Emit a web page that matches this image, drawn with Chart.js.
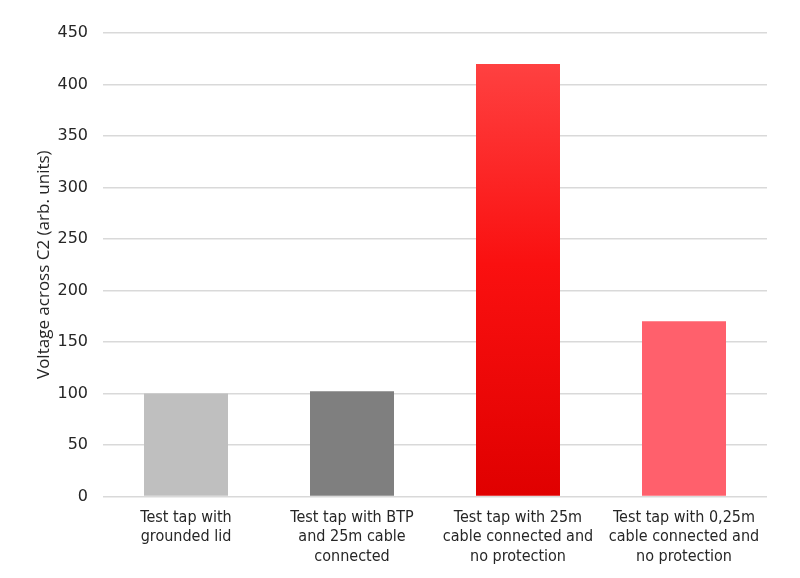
<!DOCTYPE html>
<html>
<head>
<meta charset="utf-8">
<script src="https://cdn.jsdelivr.net/npm/chart.js@4"></script>
<style>
  html, body { margin: 0; padding: 0; background: #fff; }
  #wrap { width: 800px; height: 578px; }
</style>
</head>
<body>
<div id="wrap"><canvas id="chart" width="800" height="578"></canvas></div>
<script>
// categories (multi-line labels as in the figure)
const categories = [
  ['Test tap with', 'grounded lid'],
  ['Test tap with BTP', 'and 25m cable', 'connected'],
  ['Test tap with 25m', 'cable connected and', 'no protection'],
  ['Test tap with 0,25m', 'cable connected and', 'no protection']
];
const voltages = [100, 102, 420, 170];
const yTicksMax = 450;
const yTickStep = 50;
const yTitle = 'Voltage across C2 (arb. units)';

// red bar gets a vertical gradient, the others are flat
function barColor(context) {
  const i = context.dataIndex;
  if (i === 0) return '#bfbfbf';
  if (i === 1) return '#7f7f7f';
  if (i === 3) return '#ff606c';
  const chart = context.chart;
  const area = chart.chartArea;
  if (!area) return '#f00000';
  const g = chart.ctx.createLinearGradient(0, area.top, 0, area.bottom);
  g.addColorStop(0, '#ff4848');
  g.addColorStop(0.5, '#fa1010');
  g.addColorStop(1, '#e00000');
  return g;
}

const ctx = document.getElementById('chart').getContext('2d');
new Chart(ctx, {
  type: 'bar',
  data: {
    labels: categories,
    datasets: [{
      data: voltages,
      backgroundColor: barColor,
      borderWidth: 0,
      categoryPercentage: 1,
      barPercentage: 0.506
    }]
  },
  options: {
    responsive: false,
    maintainAspectRatio: false,
    animation: false,
    layout: { padding: { top: 33, right: 33, left: 34, bottom: 8 } },
    plugins: {
      legend: { display: false },
      tooltip: { enabled: false }
    },
    scales: {
      x: {
        grid: { display: false },
        border: { display: false },
        ticks: {
          color: '#262626',
          font: { family: "'DejaVu Sans Condensed', 'Liberation Sans', sans-serif", size: 16 },
          padding: 4,
          maxRotation: 0,
          autoSkip: false
        }
      },
      y: {
        min: 0,
        max: yTicksMax,
        border: { display: false },
        grid: { color: '#d9d9d9', lineWidth: 1.5, drawTicks: false },
        afterFit: (scale) => { scale.width = 69; },
        ticks: {
          stepSize: yTickStep,
          color: '#262626',
          font: { family: 'DejaVu Sans', size: 16 },
          padding: 15
        },
        title: {
          display: true,
          text: yTitle,
          color: '#262626',
          font: { family: 'Open Sans', size: 17 },
          padding: 0
        }
      }
    }
  }
});
</script>
</body>
</html>
